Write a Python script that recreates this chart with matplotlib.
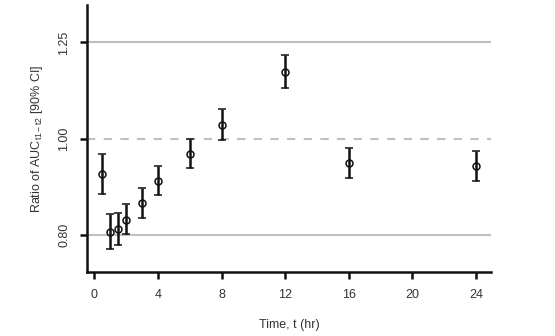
import numpy as np
import matplotlib
matplotlib.use("Agg")
import matplotlib.pyplot as plt
from matplotlib.ticker import FixedLocator, NullLocator

plt.rcParams['font.family'] = ['Liberation Sans', 'DejaVu Sans']
plt.rcParams['mathtext.fontset'] = 'custom'
plt.rcParams['mathtext.rm'] = 'Liberation Sans'
plt.rcParams['mathtext.it'] = 'Liberation Sans'

# time points (hr) and ratio with 90% CI
time = [0.5, 1, 1.5, 2, 3, 4, 6, 8, 12, 16, 24]
ratio = [0.921, 0.805, 0.811, 0.828, 0.862, 0.907, 0.966, 1.033, 1.167, 0.946, 0.939]
ci_low = [0.880, 0.774, 0.782, 0.802, 0.832, 0.877, 0.934, 0.998, 1.124, 0.913, 0.907]
ci_high = [0.965, 0.839, 0.842, 0.860, 0.892, 0.939, 1.000, 1.071, 1.213, 0.979, 0.973]

x_ticks = [0, 4, 8, 12, 16, 20, 24]
y_ticks = [0.80, 1.00, 1.25]
y_ticklabels = ['0.80', '1.00', '1.25']

fig = plt.figure(figsize=(5.55, 3.36), dpi=100)
ax = fig.add_axes([0.157, 0.19, 0.728, 0.795])

ax.set_yscale('log')
ax.set_xlim(-0.46, 24.95)
ax.set_ylim(0.734, 1.363)

ax.axhline(0.80, color='#c0c0c0', lw=1.5, zorder=1)
ax.axhline(1.25, color='#c0c0c0', lw=1.5, zorder=1)
ax.axhline(1.00, color='#c0c0c0', lw=1.5, ls=(0, (4, 4)), zorder=1)

r = np.array(ratio)
yerr = [r - np.array(ci_low), np.array(ci_high) - r]
ax.errorbar(time, ratio, yerr=yerr, fmt='o', ms=5, mfc='none', mec='#111111',
            mew=1.1, ecolor='#111111', elinewidth=1.8, capsize=3.2, capthick=1.8,
            zorder=3)

ax.yaxis.set_major_locator(FixedLocator(y_ticks))
ax.yaxis.set_minor_locator(NullLocator())
ax.set_yticklabels(y_ticklabels, rotation=90, va='center')
ax.set_xticks(x_ticks)

for s in ['top', 'right']:
    ax.spines[s].set_visible(False)
for s in ['left', 'bottom']:
    ax.spines[s].set_linewidth(1.8)
    ax.spines[s].set_color('#111111')

ax.tick_params(axis='both', length=5, width=1.8, color='#111111',
               labelsize=9, labelcolor='#333333', pad=7)

ax.set_xlabel('Time, t (hr)', fontsize=9, color='#333333', labelpad=13)
ax.set_ylabel(r'Ratio of AUC$_{\mathrm{t1-t2}}$ [90% CI]', fontsize=9,
              color='#333333', labelpad=10)

fig.savefig('out.png', dpi=100)
